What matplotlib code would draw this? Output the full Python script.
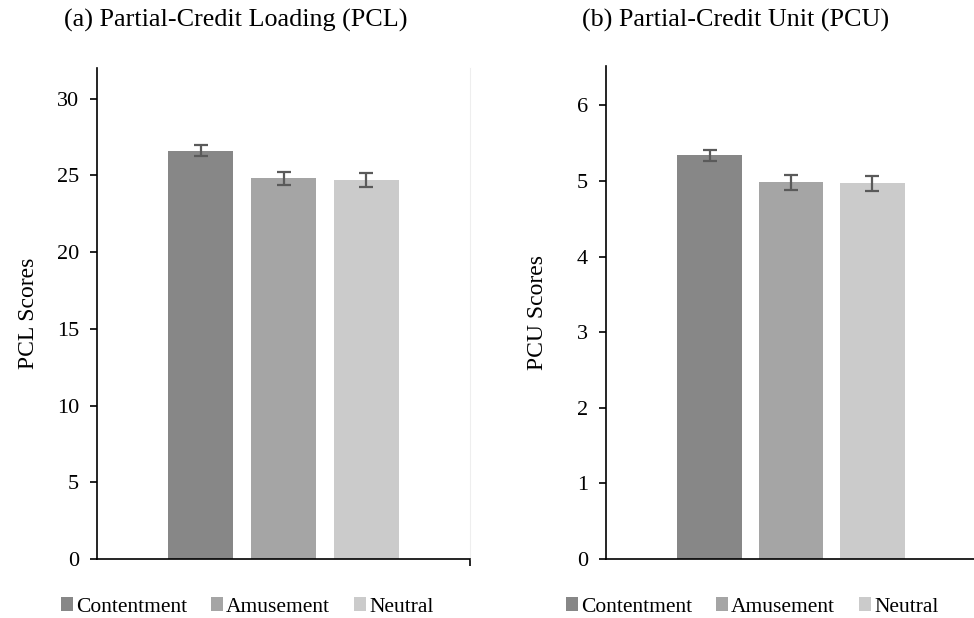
import matplotlib
matplotlib.use("Agg")
import matplotlib.pyplot as plt
import numpy as np

plt.rcParams['font.family'] = ['Liberation Serif', 'DejaVu Serif']

groups = ["Contentment", "Amusement", "Neutral"]
colors = ["#878787", "#a5a5a5", "#cbcbcb"]

pcl_means = [26.6, 24.8, 24.7]
pcl_err = [0.35, 0.45, 0.45]
pcu_means = [5.34, 4.98, 4.97]
pcu_err = [0.07, 0.10, 0.10]

fig = plt.figure(figsize=(9.74, 6.18), dpi=100)

panels = [
    dict(rect=[97/974, 59/618, 373/974, 491/618], means=pcl_means, err=pcl_err,
         ylim=32, ticks=np.arange(0, 31, 5), ylabel="PCL Scores",
         title="(a) Partial-Credit Loading (PCL)", half=2.247, tx=236/974, lx=247/974),
    dict(rect=[606/974, 59/618, 370/974, 493/618], means=pcu_means, err=pcu_err,
         ylim=6.52, ticks=np.arange(0, 7, 1), ylabel="PCU Scores",
         title="(b) Partial-Credit Unit (PCU)", half=2.27, tx=736/974, lx=752/974),
]

for p in panels:
    ax = fig.add_axes(p["rect"])
    x = np.arange(len(groups)) - 1
    for i in range(len(groups)):
        ax.bar(x[i], p["means"][i], width=0.79, color=colors[i], label=groups[i], zorder=2)
        ax.errorbar(x[i], p["means"][i], yerr=p["err"][i], fmt="none", ecolor="#5a5a5a",
                    elinewidth=1.6, capsize=5, capthick=1.6, zorder=3)
    ax.set_xlim(-p["half"], p["half"])
    ax.set_ylim(0, p["ylim"])
    ax.set_yticks(p["ticks"])
    ax.set_xticks([p["half"]])
    ax.set_xticklabels([])
    ax.tick_params(axis="x", direction="out", length=5, width=1.2, color="black")
    ax.tick_params(axis="y", direction="out", length=5, width=1.2, labelsize=16, pad=8)
    ax.spines["top"].set_visible(False)
    ax.spines["right"].set_color("#eeeeee")
    ax.spines["right"].set_linewidth(0.8)
    ax.spines["left"].set_linewidth(1.2)
    ax.spines["bottom"].set_linewidth(1.2)
    ax.set_ylabel(p["ylabel"], fontsize=17)
    ax.yaxis.set_label_coords(-0.156, 0.5)
    fig.text(p["tx"], 1 - 20/618, p["title"], fontsize=18.8, ha="center", va="center")
    fig.legend(*ax.get_legend_handles_labels(), loc="center", bbox_to_anchor=(p["lx"], 1 - 607/618),
               ncol=3, frameon=False, fontsize=15.5, handlelength=0.56, handleheight=0.56,
               handletextpad=0.15, columnspacing=1.1)

fig.savefig("out.png", dpi=100, facecolor="white")
